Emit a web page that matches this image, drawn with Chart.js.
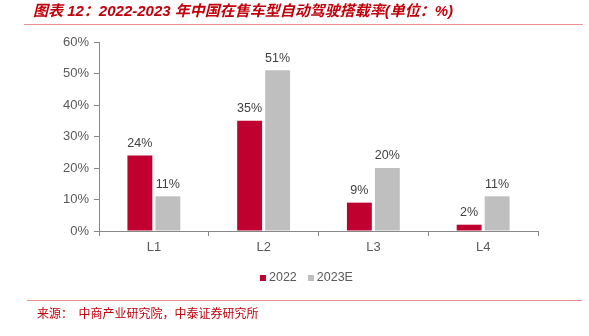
<!DOCTYPE html>
<html><head><meta charset="utf-8">
<script src="https://cdn.jsdelivr.net/npm/chart.js@4/dist/chart.umd.min.js"></script>
<style>
html,body{margin:0;padding:0;background:#fff;}
#wrap{position:relative;width:589px;height:336px;overflow:hidden;font-family:"Liberation Sans",Arial,sans-serif;}
#c{position:absolute;left:0;top:0;}
#title{position:absolute;left:33px;top:2px;font-size:15px;line-height:18px;font-weight:bold;font-style:italic;color:#C0000C;white-space:nowrap;font-family:"Liberation Sans","Noto Sans CJK SC",sans-serif;}
#line1{position:absolute;left:24px;top:24px;width:559px;height:1px;background:#EE8E8E;}
#line2{position:absolute;left:27px;top:300px;width:555px;height:1px;background:#EE8E8E;}
#src{position:absolute;left:37px;top:305px;font-size:12px;line-height:16px;color:#C0000C;white-space:nowrap;font-family:"Noto Sans CJK SC",sans-serif;}
#legend{position:absolute;top:269px;left:260px;font-size:12.5px;line-height:16px;color:#595959;white-space:nowrap;}
#legend span.sw{display:inline-block;width:6px;height:6px;margin-right:3px;vertical-align:0px;}
</style></head><body>
<div id="wrap">
<canvas id="c" width="589" height="336"></canvas>
<div id="title">图表 12：2022-2023 年中国在售车型自动驾驶搭载率(单位：%)</div>
<div id="line1"></div>
<div id="legend"><span class="sw" style="background:#C0002E"></span>2022<span style="display:inline-block;width:11px"></span><span class="sw" style="background:#BFBFBF"></span>2023E</div>
<div id="line2"></div>
<div id="src">来源：&nbsp; 中商产业研究院，中泰证券研究所</div>
</div>
<script>
const categories = ["L1", "L2", "L3", "L4"];
const seriesNames = ["2022", "2023E"];
const values2022 = [24, 35, 9, 2];
const values2023E = [11, 51, 20, 11];
const yTicks = [0, 10, 20, 30, 40, 50, 60];

const valueLabels = {
  id: 'valueLabels',
  afterDatasetsDraw(chart) {
    const ctx = chart.ctx;
    ctx.save();
    ctx.font = '12.5px "Liberation Sans", Arial, sans-serif';
    ctx.fillStyle = '#404040';
    ctx.textAlign = 'center';
    ctx.textBaseline = 'bottom';
    chart.data.datasets.forEach((ds, i) => {
      chart.getDatasetMeta(i).data.forEach((bar, j) => {
        ctx.fillText(ds.data[j] + '%', bar.x, bar.y - 6);
      });
    });
    ctx.restore();
  }
};

new Chart(document.getElementById('c'), {
  type: 'bar',
  data: {
    labels: categories,
    datasets: [
      {label: seriesNames[0], data: values2022, backgroundColor: '#C0002E'},
      {label: seriesNames[1], data: values2023E, backgroundColor: '#BFBFBF'}
    ]
  },
  options: {
    responsive: false,
    animation: false,
    devicePixelRatio: 1,
    layout: {padding: {left: 0, right: 51, top: 42, bottom: 85}},
    plugins: {legend: {display: false}, tooltip: {enabled: false}},
    datasets: {bar: {categoryPercentage: 0.51, barPercentage: 0.89}},
    scales: {
      x: {
        offset: true,
        grid: {offset: true, drawOnChartArea: false, drawTicks: true, tickLength: 5, color: '#888888'},
        border: {color: '#888888', width: 1},
        ticks: {color: '#595959', font: {size: 13, family: '"Liberation Sans", Arial, sans-serif'}, padding: 4},
        afterFit(s) { s.height = 20; }
      },
      y: {
        min: 0, max: 60,
        afterBuildTicks(s) { s.ticks = yTicks.map(v => ({value: v})); },
        grid: {drawOnChartArea: false, drawTicks: true, tickLength: 5, color: '#888888'},
        border: {color: '#888888', width: 1},
        ticks: {color: '#595959', font: {size: 13, family: '"Liberation Sans", Arial, sans-serif'}, padding: 5,
          callback: v => v + '%'},
        afterFit(s) { s.width = 99; }
      }
    }
  },
  plugins: [valueLabels]
});
</script>
</body></html>
